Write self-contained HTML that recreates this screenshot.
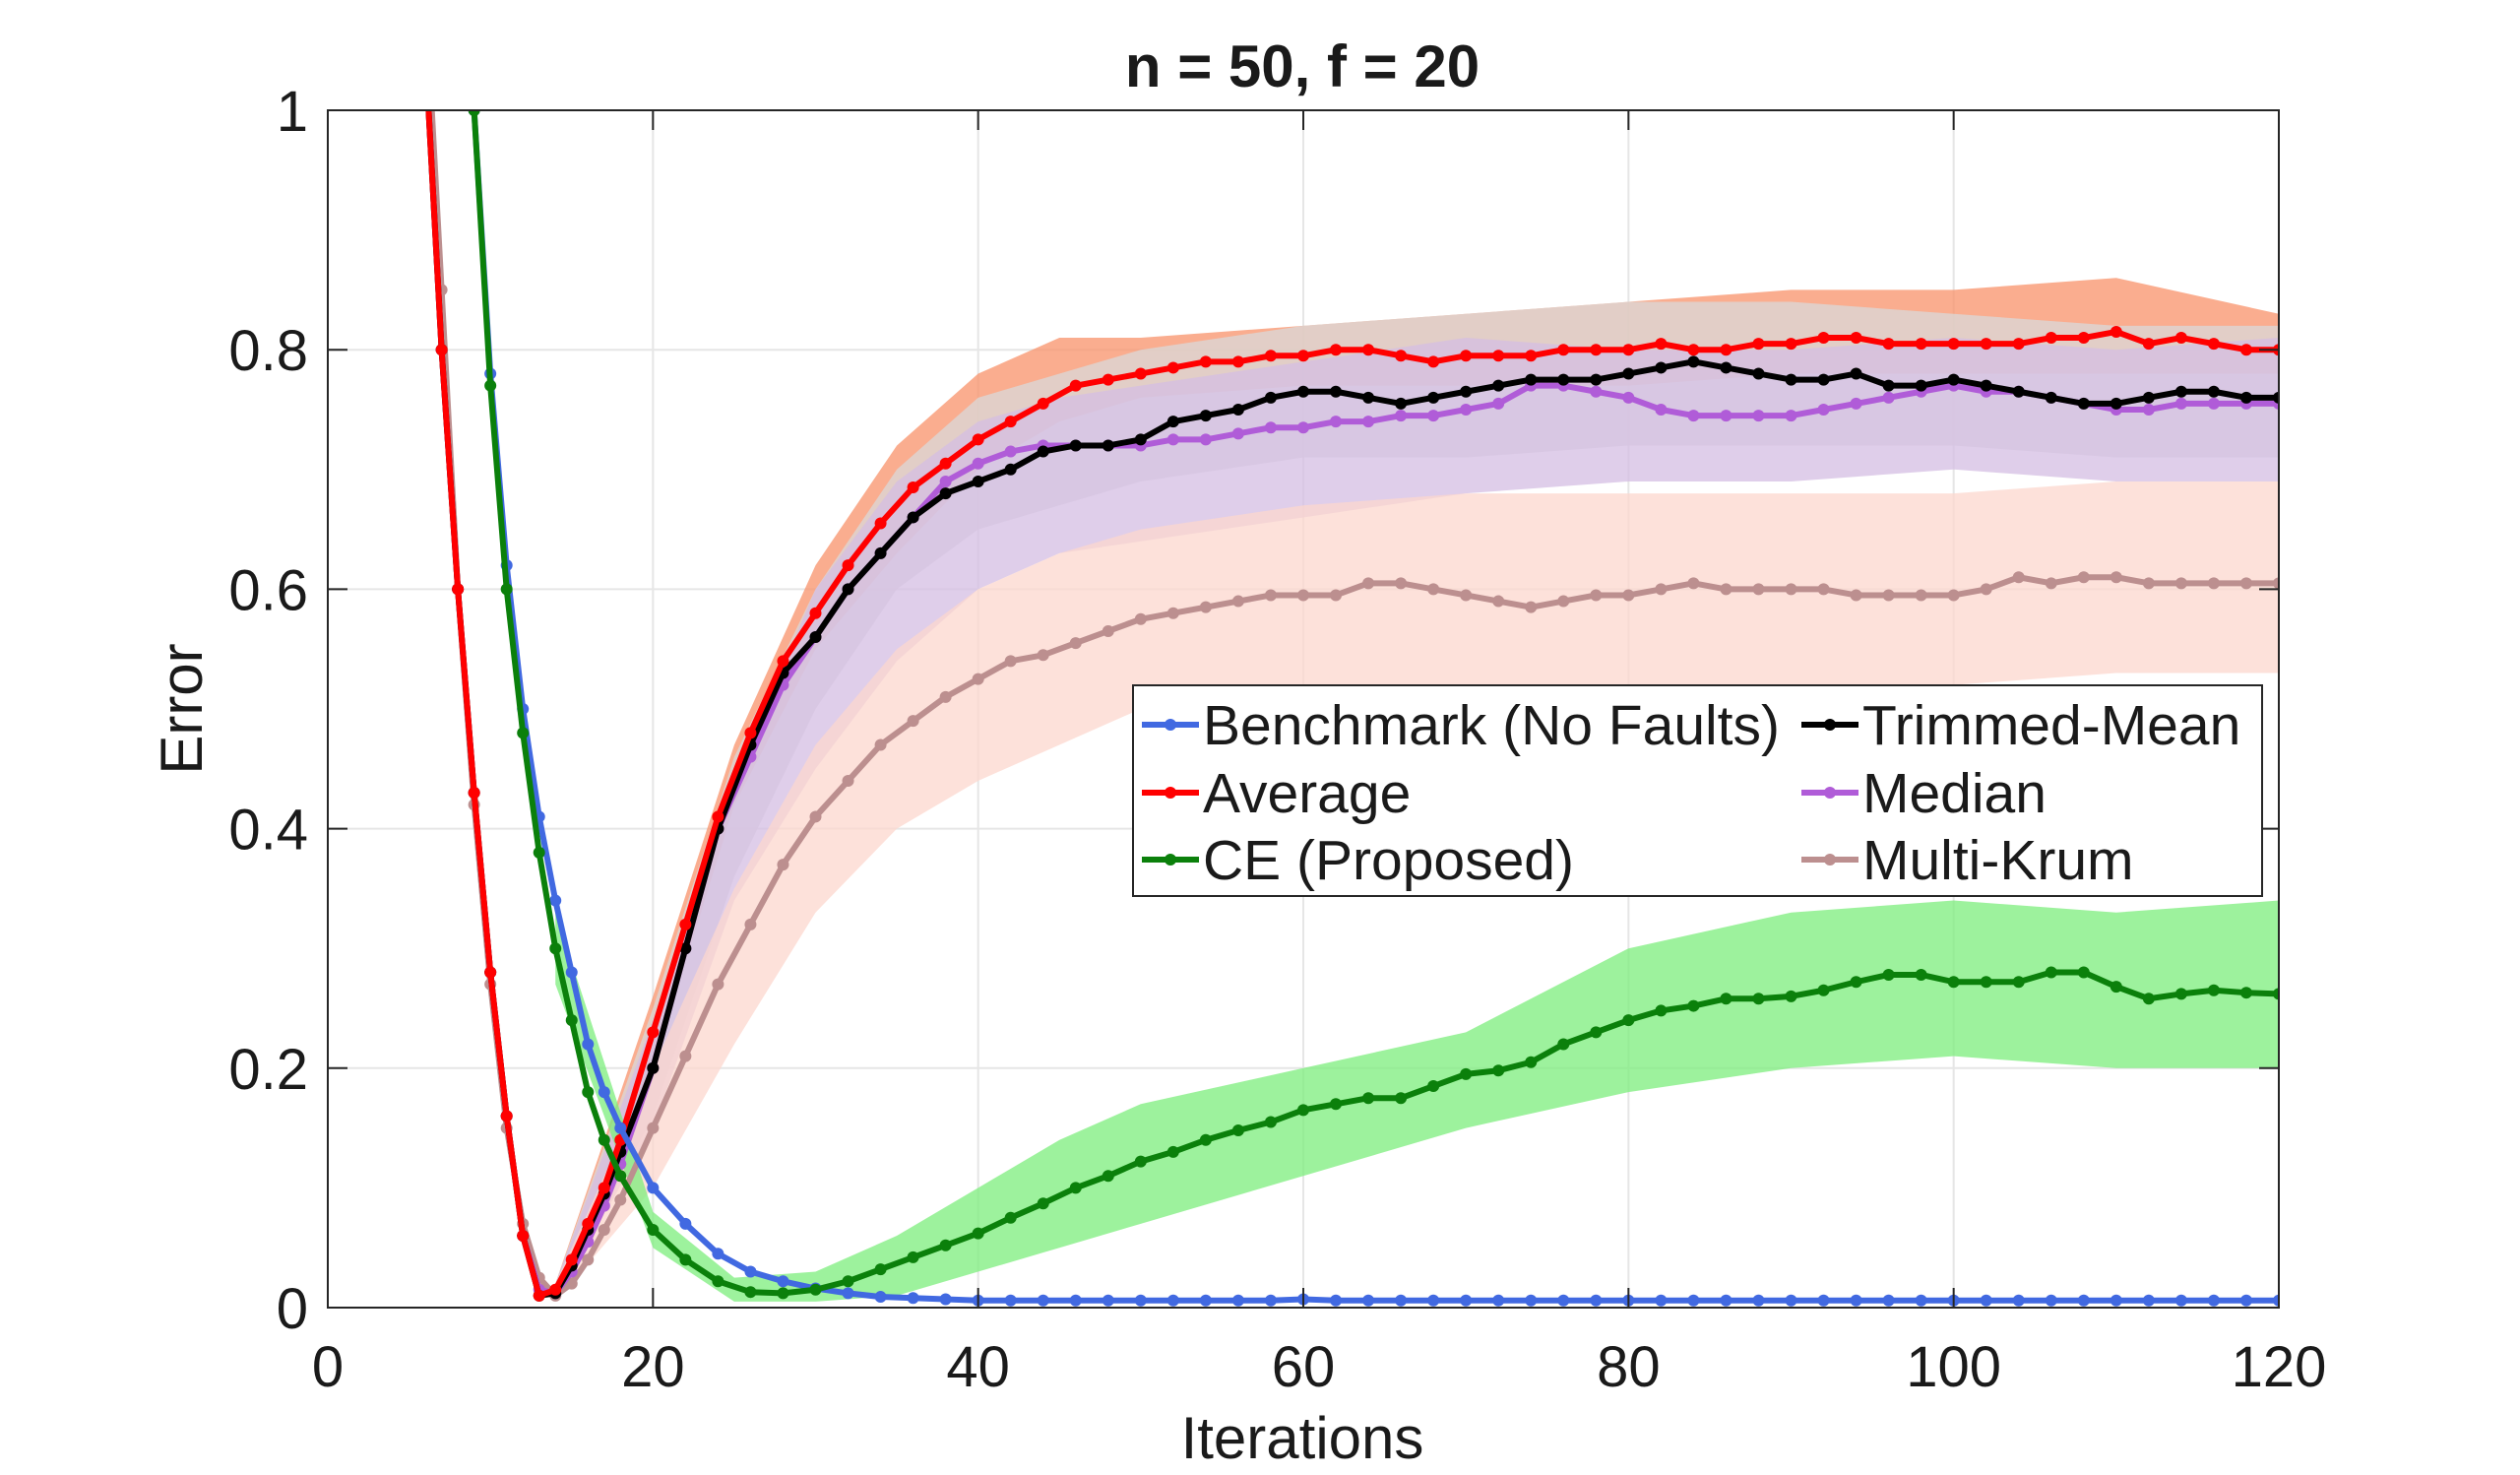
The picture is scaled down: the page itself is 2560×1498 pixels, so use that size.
<!DOCTYPE html>
<html><head><meta charset="utf-8">
<style>
html,body{margin:0;padding:0;background:#fff;}
svg{display:block;}
text{font-family:"Liberation Sans",sans-serif;fill:#1a1a1a;}
</style></head>
<body>
<svg id="chart" width="2560" height="1498" viewBox="0 0 2560 1498" xmlns="http://www.w3.org/2000/svg">
<defs><clipPath id="plotclip"><rect x="333" y="112" width="1982" height="1216"/></clipPath></defs>
<rect width="2560" height="1498" fill="#fff"/>
<text x="1323" y="88" font-size="60" font-weight="bold" text-anchor="middle">n = 50, f = 20</text>
<text x="1323" y="1481" font-size="60" text-anchor="middle">Iterations</text>
<text transform="translate(205,720) rotate(-90)" font-size="60" text-anchor="middle">Error</text>
<g id="grid"></g>
<g id="bands" clip-path="url(#plotclip)"></g>
<g id="lines" clip-path="url(#plotclip)"></g>
<g id="axes"></g>
<g id="legend"></g>
</svg>
<script>
const X = [0,2,4,6,7,8,9,10,11,12,13,14,15,16,17,18,20,22,24,26,28,30,32,34,36,38,40,42,44,46,48,50,52,54,56,58,60,62,64,66,68,70,72,74,76,78,80,82,84,86,88,90,92,94,96,98,100,102,104,106,108,110,112,114,116,118,120];
const benchmark = [5,4,3,2,1.6,1.25,1.0,0.78,0.62,0.5,0.41,0.34,0.28,0.22,0.18,0.15,0.1,0.07,0.045,0.03,0.022,0.016,0.012,0.009,0.008,0.007,0.006,0.006,0.006,0.006,0.006,0.006,0.006,0.006,0.006,0.006,0.007,0.006,0.006,0.006,0.006,0.006,0.006,0.006,0.006,0.006,0.006,0.006,0.006,0.006,0.006,0.006,0.006,0.006,0.006,0.006,0.006,0.006,0.006,0.006,0.006,0.006,0.006,0.006,0.006,0.006,0.006];
const average = [4,3,2,1.05,0.8,0.6,0.43,0.28,0.16,0.06,0.01,0.015,0.04,0.07,0.1,0.14,0.23,0.32,0.41,0.48,0.54,0.58,0.62,0.655,0.685,0.705,0.725,0.74,0.755,0.77,0.775,0.78,0.785,0.79,0.79,0.795,0.795,0.8,0.8,0.795,0.79,0.795,0.795,0.795,0.8,0.8,0.8,0.805,0.8,0.8,0.805,0.805,0.81,0.81,0.805,0.805,0.805,0.805,0.805,0.81,0.81,0.815,0.805,0.81,0.805,0.8,0.8];
const ce = [6,5,3.5,2.2,1.7,1.3,1.0,0.77,0.6,0.48,0.38,0.3,0.24,0.18,0.14,0.11,0.065,0.04,0.022,0.013,0.012,0.015,0.022,0.032,0.042,0.052,0.062,0.075,0.087,0.1,0.11,0.122,0.13,0.14,0.148,0.155,0.165,0.17,0.175,0.175,0.185,0.195,0.198,0.205,0.22,0.23,0.24,0.248,0.252,0.258,0.258,0.26,0.265,0.272,0.278,0.278,0.272,0.272,0.272,0.28,0.28,0.268,0.258,0.262,0.265,0.263,0.262];
const trimmedMean = [4,3,2,1.05,0.8,0.6,0.43,0.28,0.16,0.06,0.01,0.012,0.035,0.065,0.095,0.13,0.2,0.3,0.4,0.47,0.53,0.56,0.6,0.63,0.66,0.68,0.69,0.7,0.715,0.72,0.72,0.725,0.74,0.745,0.75,0.76,0.765,0.765,0.76,0.755,0.76,0.765,0.77,0.775,0.775,0.775,0.78,0.785,0.79,0.785,0.78,0.775,0.775,0.78,0.77,0.77,0.775,0.77,0.765,0.76,0.755,0.755,0.76,0.765,0.765,0.76,0.76];
const median = [4,3,2,1.05,0.8,0.6,0.43,0.28,0.16,0.06,0.015,0.012,0.03,0.055,0.085,0.12,0.2,0.3,0.4,0.46,0.52,0.56,0.6,0.63,0.66,0.69,0.705,0.715,0.72,0.72,0.72,0.72,0.725,0.725,0.73,0.735,0.735,0.74,0.74,0.745,0.745,0.75,0.755,0.77,0.77,0.765,0.76,0.75,0.745,0.745,0.745,0.745,0.75,0.755,0.76,0.765,0.77,0.765,0.765,0.76,0.755,0.75,0.75,0.755,0.755,0.755,0.755];
const multiKrum = [4,3,2.1,1.1,0.85,0.6,0.42,0.27,0.15,0.07,0.025,0.01,0.02,0.04,0.065,0.09,0.15,0.21,0.27,0.32,0.37,0.41,0.44,0.47,0.49,0.51,0.525,0.54,0.545,0.555,0.565,0.575,0.58,0.585,0.59,0.595,0.595,0.595,0.605,0.605,0.6,0.595,0.59,0.585,0.59,0.595,0.595,0.6,0.605,0.6,0.6,0.6,0.6,0.595,0.595,0.595,0.595,0.6,0.61,0.605,0.61,0.61,0.605,0.605,0.605,0.605,0.605];

const bandX = [14,20,25,30,35,40,45,50,60,70,80,90,100,110,120];
const avgHi = [0.02,0.26,0.47,0.62,0.72,0.78,0.81,0.81,0.82,0.83,0.84,0.85,0.85,0.86,0.83];
const avgLo = [0.005,0.2,0.42,0.55,0.63,0.7,0.74,0.76,0.77,0.77,0.77,0.78,0.78,0.78,0.78];
const tmHi = [0.02,0.25,0.46,0.6,0.7,0.76,0.78,0.8,0.82,0.83,0.84,0.84,0.83,0.82,0.82];
const tmLo = [0.005,0.16,0.36,0.5,0.6,0.65,0.67,0.69,0.71,0.71,0.72,0.72,0.72,0.71,0.71];
const medHi = [0.02,0.24,0.44,0.6,0.69,0.74,0.76,0.77,0.79,0.81,0.8,0.8,0.81,0.8,0.81];
const medLo = [0.005,0.15,0.34,0.45,0.54,0.6,0.63,0.64,0.66,0.68,0.69,0.69,0.7,0.69,0.69];
const mkHi = [0.02,0.2,0.35,0.47,0.55,0.6,0.63,0.65,0.67,0.68,0.68,0.68,0.68,0.69,0.69];
const mkLo = [0.005,0.1,0.22,0.33,0.4,0.44,0.47,0.5,0.52,0.52,0.52,0.52,0.52,0.53,0.53];
const ceHi = [0.33,0.08,0.025,0.03,0.06,0.1,0.14,0.17,0.2,0.23,0.3,0.33,0.34,0.33,0.34];
const ceLo = [0.27,0.05,0.005,0.005,0.01,0.03,0.05,0.07,0.11,0.15,0.18,0.2,0.21,0.2,0.2];

const xTicks = [0,20,40,60,80,100,120];
const yTicks = [0,0.2,0.4,0.6,0.8,1];
const yTickLabels = ["0","0.2","0.4","0.6","0.8","1"];

const L=333,R=2315,T=112,B=1328;
const sx = v => L + (v/120)*(R-L);
const sy = v => B - v*(B-T);
const NS="http://www.w3.org/2000/svg";
function mk(tag, parent, attrs){const e=document.createElementNS(NS,tag);for(const k in attrs)e.setAttribute(k,attrs[k]);parent.appendChild(e);return e;}

const grid=document.getElementById('grid');
xTicks.forEach(t=>{const l=mk('line',grid,{x1:sx(t),x2:sx(t),y1:T,y2:B,stroke:'#e6e6e6','stroke-width':2});

});
yTicks.forEach(t=>{const l=mk('line',grid,{x1:L,x2:R,y1:sy(t),y2:sy(t),stroke:'#e6e6e6','stroke-width':2});

});

const bands=document.getElementById('bands');
function band(hi,lo,color,name){
  let d='M'+bandX.map((x,i)=>sx(x)+','+sy(hi[i])).join('L');
  d+='L'+bandX.map((x,i)=>[x,i]).reverse().map(([x,i])=>sx(x)+','+sy(lo[i])).join('L')+'Z';
  const p=mk('path',bands,{d:d,fill:color,'fill-opacity':0.75,stroke:'none'});
  
  
}
band(avgHi,avgLo,'#f8926a','average-band');
band(tmHi,tmLo,'#d9d9d9','trimmed-mean-band');
band(medHi,medLo,'#d4bde3','median-band');
band(mkHi,mkLo,'#fcd7ce','multi-krum-band');
band(ceHi,ceLo,'#7cee7c','ce-band');

const lines=document.getElementById('lines');
function series(vals,color,name){
  const g=mk('g',lines,{});
  
  
  const d='M'+X.map((x,i)=>sx(x)+','+sy(vals[i])).join('L');
  mk('path',g,{d:d,fill:'none',stroke:color,'stroke-width':6,'stroke-linejoin':'round'});
  X.forEach((x,i)=>{const c=mk('circle',g,{cx:sx(x),cy:sy(vals[i]),r:6,fill:color});
  
  });
}
series(multiKrum,'#bc8f8f','multi-krum-line');
series(median,'#b05cd8','median-line');
series(trimmedMean,'#000000','trimmed-mean-line');
series(average,'#ff0000','average-line');
series(benchmark,'#4169e1','benchmark-line');
series(ce,'#0b800b','ce-line');

const axes=document.getElementById('axes');
mk('rect',axes,{x:L,y:T,width:R-L,height:B-T,fill:'none',stroke:'#262626','stroke-width':2});
xTicks.forEach(t=>{
  mk('line',axes,{x1:sx(t),x2:sx(t),y1:B,y2:B-20,stroke:'#262626','stroke-width':2});
  mk('line',axes,{x1:sx(t),x2:sx(t),y1:T,y2:T+20,stroke:'#262626','stroke-width':2});
  const tx=mk('text',axes,{x:sx(t),y:1408,'font-size':58,'text-anchor':'middle'});
  tx.textContent=String(t);
  
  
});
yTicks.forEach((t,i)=>{
  mk('line',axes,{x1:L,x2:L+20,y1:sy(t),y2:sy(t),stroke:'#262626','stroke-width':2});
  mk('line',axes,{x1:R,x2:R-20,y1:sy(t),y2:sy(t),stroke:'#262626','stroke-width':2});
  const tx=mk('text',axes,{x:313,y:sy(t)+21,'font-size':58,'text-anchor':'end'});
  tx.textContent=yTickLabels[i];
  
  
});

const legend=document.getElementById('legend');
mk('rect',legend,{x:1151,y:696,width:1147,height:214,fill:'#fff',stroke:'#262626','stroke-width':2});
const legendItems=[
 ['Benchmark (No Faults)','#4169e1',1160,736,'legend-benchmark'],
 ['Average','#ff0000',1160,805,'legend-average'],
 ['CE (Proposed)','#0b800b',1160,873,'legend-ce'],
 ['Trimmed-Mean','#000000',1830,736,'legend-trimmed-mean'],
 ['Median','#b05cd8',1830,805,'legend-median'],
 ['Multi-Krum','#bc8f8f',1830,873,'legend-multi-krum']];
legendItems.forEach(([lab,col,x,y,name])=>{
  const g=mk('g',legend,{});
  
  
  mk('line',g,{x1:x,x2:x+58,y1:y,y2:y,stroke:col,'stroke-width':6});
  mk('circle',g,{cx:x+29,cy:y,r:6,fill:col});
  const t=mk('text',g,{x:x+62,y:y+20,'font-size':57});
  t.textContent=lab;
});
</script>
</body></html>
